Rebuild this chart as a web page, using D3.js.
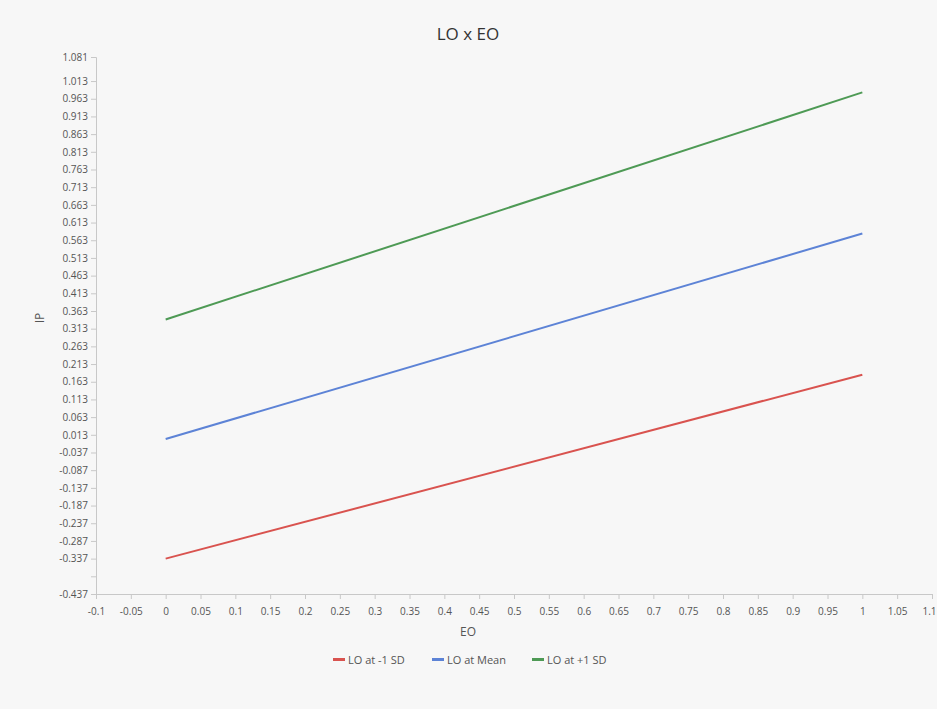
<!DOCTYPE html>
<html>
<head>
<meta charset="utf-8">
<script src="https://cdn.jsdelivr.net/npm/d3@7"></script>
<style>
  html, body { margin: 0; padding: 0; background: #f7f7f7; }
  svg { display: block; font-family: "Open Sans", "Noto Sans", sans-serif; }
</style>
</head>
<body>
<svg id="chart" width="937" height="709"></svg>
<script>
const title = "LO x EO";
const xLabel = "EO";
const yLabel = "IP";
const eoValues = [0, 1];
const seriesNames = ["LO at -1 SD", "LO at Mean", "LO at +1 SD"];
const seriesColors = ["#d9534f", "#5d83d6", "#4e9a55"];
const lowValues = [-0.337, 0.183];
const meanValues = [0.001, 0.582];
const highValues = [0.339, 0.981];
const xTicks = [-0.1, -0.05, 0, 0.05, 0.1, 0.15, 0.2, 0.25, 0.3, 0.35, 0.4, 0.45, 0.5, 0.55, 0.6, 0.65, 0.7, 0.75, 0.8, 0.85, 0.9, 0.95, 1, 1.05, 1.1];
const yTicks = [1.081, 1.013, 0.963, 0.913, 0.863, 0.813, 0.763, 0.713, 0.663, 0.613, 0.563, 0.513, 0.463, 0.413, 0.363, 0.313, 0.263, 0.213, 0.163, 0.113, 0.063, 0.013, -0.037, -0.087, -0.137, -0.187, -0.237, -0.287, -0.337, -0.387, -0.437];
const yTickLabels = ["1.081", "1.013", "0.963", "0.913", "0.863", "0.813", "0.763", "0.713", "0.663", "0.613", "0.563", "0.513", "0.463", "0.413", "0.363", "0.313", "0.263", "0.213", "0.163", "0.113", "0.063", "0.013", "-0.037", "-0.087", "-0.137", "-0.187", "-0.237", "-0.287", "-0.337", "", "-0.437"];
const xTickLabels = ["-0.1", "-0.05", "0", "0.05", "0.1", "0.15", "0.2", "0.25", "0.3", "0.35", "0.4", "0.45", "0.5", "0.55", "0.6", "0.65", "0.7", "0.75", "0.8", "0.85", "0.9", "0.95", "1", "1.05", "1.1"];

(function () {
const series = [lowValues, meanValues, highValues].map((vals, i) => ({
  name: seriesNames[i], color: seriesColors[i],
  points: eoValues.map((x, j) => ({ x, y: vals[j] }))
}));

const svg = d3.select("#chart");
const mLeft = 96, mRight = 932, mTop = 57, mBottom = 594;

const x = d3.scaleLinear().domain([-0.1, 1.1]).range([mLeft, mRight]);
const y = d3.scaleLinear().domain([-0.437, 1.081]).range([mBottom, mTop]);

svg.append("rect").attr("width", 937).attr("height", 709).attr("fill", "#f7f7f7");

svg.append("text").attr("x", 468).attr("y", 40).attr("text-anchor", "middle")
  .attr("font-size", 17).attr("fill", "#333").text(title);

const yAxis = d3.axisLeft(y).tickValues(yTicks)
  .tickFormat((d, i) => yTickLabels[i]).tickSize(5).tickPadding(3);
const gy = svg.append("g").attr("transform", `translate(${mLeft},0)`).call(yAxis);
gy.select(".domain").attr("stroke", "#c8c8c8");
gy.selectAll(".tick line").attr("stroke", "#c8c8c8");
gy.selectAll(".tick text").attr("fill", "#555").attr("font-size", 10).attr("font-family", "Open Sans, sans-serif");

const xAxis = d3.axisBottom(x).tickValues(xTicks)
  .tickFormat((d, i) => xTickLabels[i]).tickSize(5).tickPadding(9);
const gx = svg.append("g").attr("transform", `translate(0,${mBottom})`).call(xAxis);
gx.select(".domain").attr("stroke", "#c8c8c8");
gx.selectAll(".tick line").attr("stroke", "#c8c8c8");
gx.selectAll(".tick text").attr("fill", "#555").attr("font-size", 10).attr("font-family", "Open Sans, sans-serif");
gx.selectAll(".tick text").filter((d, i) => i === xTicks.length - 1)
  .attr("text-anchor", "end").attr("dx", 4);

svg.append("text").attr("x", 468).attr("y", 636).attr("text-anchor", "middle")
  .attr("font-size", 12).attr("fill", "#555").text(xLabel);
svg.append("text").attr("transform", "translate(44,318) rotate(-90)")
  .attr("text-anchor", "middle").attr("font-size", 12).attr("fill", "#555").text(yLabel);

const line = d3.line().x(d => x(d.x)).y(d => y(d.y));
svg.append("g").selectAll("path").data(series).join("path")
  .attr("d", d => line(d.points))
  .attr("fill", "none").attr("stroke", d => d.color).attr("stroke-width", 2);

const legendItems = [
  { sx: 333, tx: 348 }, { sx: 432, tx: 447 }, { sx: 532, tx: 547 }
];
const lg = svg.append("g");
series.forEach((s, i) => {
  lg.append("rect").attr("x", legendItems[i].sx).attr("y", 658).attr("width", 12).attr("height", 3).attr("fill", s.color);
  lg.append("text").attr("x", legendItems[i].tx).attr("y", 664).attr("font-size", 11).attr("fill", "#555").text(s.name);
});
})();
</script>
</body>
</html>
